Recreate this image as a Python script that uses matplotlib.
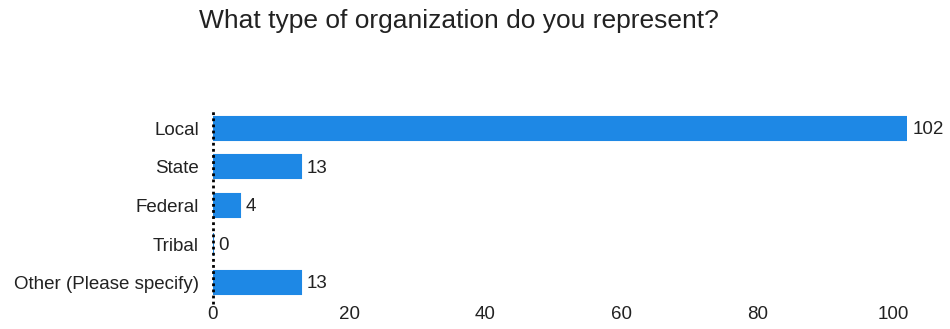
import matplotlib.pyplot as plt

plt.rcParams['font.family'] = ['Liberation Sans', 'DejaVu Sans']

categories = ['Local', 'State', 'Federal', 'Tribal', 'Other (Please specify)']
counts = [102, 13, 4, 0, 13]
xticks = [0, 20, 40, 60, 80, 100]

bar_color = '#1E88E5'
text_color = '#222222'

fig = plt.figure(figsize=(9.5, 3.29), dpi=100)
ax = fig.add_axes([213 / 950, 27 / 329, (907 - 213) / 950, 193 / 329])

ypos = range(len(categories))
ax.barh(ypos, counts, height=0.6, color=bar_color, edgecolor=bar_color, linewidth=1.5)

# value labels just past the bar ends
for y, v in zip(ypos, counts):
    ax.text(v + 0.8, y + 0.03, str(v), va='center', ha='left', fontsize=13.5, color=text_color, clip_on=False)

ax.set_xlim(0, 102)
ax.set_ylim(len(categories) - 0.5, -0.5)
ax.set_yticks(list(ypos))
ax.set_yticklabels(categories, fontsize=13.5, color=text_color)
ax.set_xticks(xticks)
ax.set_xticklabels([str(t) for t in xticks], fontsize=13.5, color=text_color)
ax.tick_params(length=0, pad=3)
ax.tick_params(axis='y', pad=10)

for s in ax.spines.values():
    s.set_visible(False)

# dotted baseline at zero
ax.axvline(0, color='black', linestyle=(0, (1, 1.2)), linewidth=2, ymin=-0.01, ymax=1.0, clip_on=False)

fig.text(459 / 950, 1 - 21 / 329, 'What type of organization do you represent?', ha='center', va='center',
         fontsize=19, color=text_color)

fig.savefig('out.png', dpi=100, facecolor='white')
